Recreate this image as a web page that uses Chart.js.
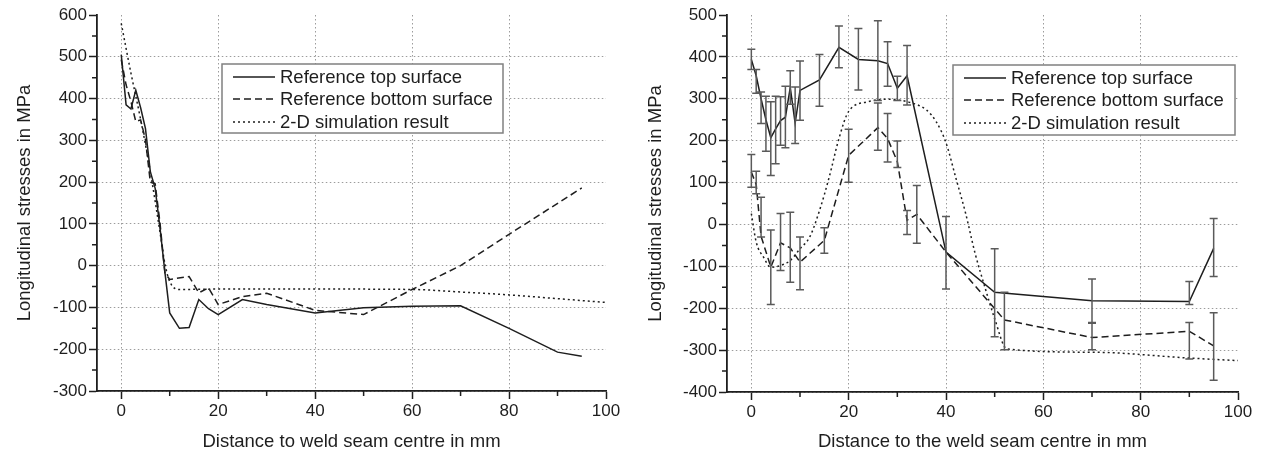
<!DOCTYPE html>
<html>
<head>
<meta charset="utf-8">
<script src="https://cdn.jsdelivr.net/npm/chart.js@4"></script>
<style>
  body { margin: 0; background: #fff; }
  #wrap { position: relative; width: 1262px; height: 451px; }
  .box { position: absolute; top: 0; width: 631px; height: 451px; }
</style>
</head>
<body>
<div id="wrap">
  <div class="box" style="left:0"><canvas id="leftChart" width="631" height="451"></canvas></div>
  <div class="box" style="left:631px"><canvas id="rightChart" width="631" height="451"></canvas></div>
</div>
<script>
// left panel: reference measurement vs 2-D simulation
const leftTopX = [0, 1, 2, 3, 4, 5, 6, 7, 8, 9, 10, 12, 14, 16, 18, 20, 25, 30, 40, 50, 60, 70, 80, 90, 95]
const leftTopY = [505, 385, 375, 420, 378, 328, 225, 185, 90, -15, -113, -150, -148, -81, -103, -117, -81, -93, -113, -101, -97, -96, -150, -207, -217]
const leftBotX = [0, 1, 2, 3, 4, 5, 6, 7, 8, 9, 10, 14, 16, 18, 20, 25, 30, 40, 50, 60, 70, 80, 95]
const leftBotY = [493, 433, 393, 345, 349, 301, 200, 196, 102, -17, -33, -26, -65, -53, -93, -74, -66, -107, -117, -57, 0, 75, 186]
const leftSimX = [0, 2, 4, 6, 8, 9, 10, 12, 20, 40, 60, 70, 80, 90, 100]
const leftSimY = [580, 461, 350, 225, 80, 5, -38, -57, -56, -56, -57, -63, -70, -79, -88]

// right panel: with scatter bands
const rightTopX = [0, 1, 2, 3, 4, 5, 6, 7, 8, 9, 10, 14, 18, 22, 26, 28, 30, 32, 40, 50, 70, 90, 95]
const rightTopY = [394, 355, 300, 250, 207, 228, 248, 256, 327, 242, 320, 345, 423, 394, 391, 384, 325, 355, -66, -162, -182, -184, -57]
const rightTopHigh = [418, 370, 316, 306, 293, 306, 305, 330, 367, 328, 390, 406, 474, 468, 486, 436, 354, 427, 19, -58, -130, -136, 14]
const rightTopLow = [370, 313, 241, 175, 117, 145, 189, 183, 287, 193, 249, 282, 374, 321, 296, 330, 296, 285, -154, -268, -234, -191, -124]
const rightBotX = [0, 1, 2, 4, 6, 8, 10, 15, 20, 26, 28, 30, 32, 34, 40, 52, 70, 90, 95]
const rightBotY = [125, 95, -28, -102, -44, -56, -90, -38, 165, 231, 205, 150, 10, 24, -66, -228, -270, -255, -290]
const rightBotHigh = [167, 127, 65, -13, 26, 29, -30, -8, 227, 290, 265, 199, 33, 93, null, -162, -236, -234, -211]
const rightBotLow = [89, 73, -30, -191, -110, -138, -156, -69, 101, 177, 149, 136, -24, -45, null, -299, -299, -321, -372]
const rightSimX = [0, 1, 2.5, 4, 6, 8, 10, 12, 14, 16, 18, 20, 24, 28, 32, 36, 38, 40, 42, 44, 46, 48, 50, 52.5, 70, 90, 100]
const rightSimY = [26, -42, -78, -102, -98, -86, -58, -30, 33, 113, 205, 270, 293, 299, 293, 273, 245, 195, 112, 28, -70, -150, -225, -297, -305, -319, -325]

const legendLabels = ['Reference top surface', 'Reference bottom surface', '2-D simulation result']

const INK = '#1e1e1e'
const FONT = "'Liberation Sans', Arial, sans-serif"
Chart.defaults.font.family = FONT
Chart.defaults.color = INK

function toPoints(xs, ys) {
    return xs.map((x, i) => ({x: x, y: ys[i]}))
}

function lineStyle(kind) {
    if (kind === 'dash') return [7, 4]
    if (kind === 'dot') return [2, 3]
    return []
}

const extras = {
    id: 'extras',
    afterDatasetsDraw(chart) {
        const {ctx, scales} = chart
        // error bars
        chart.data.datasets.forEach((ds) => {
            if (!ds.errLow) return
            ctx.save()
            ctx.strokeStyle = '#5a5a5a'
            ctx.lineWidth = 1.5
            ctx.beginPath()
            ds.data.forEach((p, i) => {
                if (ds.errLow[i] == null) return
                const px = scales.x.getPixelForValue(p.x)
                const lo = scales.y.getPixelForValue(ds.errLow[i])
                const hi = scales.y.getPixelForValue(ds.errHigh[i])
                ctx.moveTo(px, lo); ctx.lineTo(px, hi)
                ctx.moveTo(px - 4, lo); ctx.lineTo(px + 4, lo)
                ctx.moveTo(px - 4, hi); ctx.lineTo(px + 4, hi)
            })
            ctx.stroke()
            ctx.restore()
        })
    },
    afterDraw(chart, args, opts) {
        const {ctx, chartArea, scales} = chart
        // minor ticks
        ctx.save()
        ctx.strokeStyle = INK
        ctx.lineWidth = 1.5
        ctx.beginPath()
        for (let v = scales.y.min + 50; v < scales.y.max; v += 100) {
            const py = scales.y.getPixelForValue(v)
            ctx.moveTo(chartArea.left - 5, py); ctx.lineTo(chartArea.left, py)
        }
        for (let v = 10; v < 100; v += 20) {
            const px = scales.x.getPixelForValue(v)
            ctx.moveTo(px, chartArea.bottom); ctx.lineTo(px, chartArea.bottom + 5)
        }
        ctx.stroke()
        ctx.restore()

        // boxed legend
        const b = opts.box
        ctx.save()
        ctx.fillStyle = '#fff'
        ctx.fillRect(b.x, b.y, b.w, b.h)
        ctx.strokeStyle = '#808080'
        ctx.lineWidth = 1.5
        ctx.strokeRect(b.x, b.y, b.w, b.h)
        ctx.font = '18.5px ' + FONT
        ctx.textBaseline = 'middle'
        ctx.fillStyle = INK
        chart.data.datasets.forEach((ds, i) => {
            const ry = b.rowY[i]
            ctx.strokeStyle = INK
            ctx.lineWidth = 1.5
            ctx.setLineDash(ds.borderDash || [])
            ctx.beginPath()
            ctx.moveTo(b.x + 11, ry); ctx.lineTo(b.x + 53, ry)
            ctx.stroke()
            ctx.setLineDash([])
            ctx.fillText(ds.label, b.x + 58, ry + 1)
        })
        ctx.restore()
    }
}

function makeChart(id, cfg) {
    const ctx = document.getElementById(id).getContext('2d')
    const datasets = cfg.series.map((s, i) => ({
        label: legendLabels[i],
        data: toPoints(s.x, s.y),
        errLow: s.low || null,
        errHigh: s.high || null,
        borderColor: INK,
        borderWidth: 1.5,
        borderDash: lineStyle(s.kind),
        pointRadius: 0,
        fill: false,
        tension: 0,
        cubicInterpolationMode: s.smooth ? 'monotone' : 'default'
    }))
    const gridColor = (max) => (c) => (c.tick && c.tick.value >= max ? 'rgba(0,0,0,0)' : '#9c9c9c')
    return new Chart(ctx, {
        type: 'line',
        data: {datasets: datasets},
        options: {
            responsive: false,
            animation: false,
            layout: {padding: {left: 0, top: 15, right: cfg.padRight, bottom: 0}},
            plugins: {
                legend: {display: false},
                tooltip: {enabled: false},
                extras: {box: cfg.legendBox}
            },
            scales: {
                x: {
                    type: 'linear',
                    min: -5,
                    max: 100,
                    ticks: {stepSize: 20, includeBounds: false, padding: 2, color: INK, font: {size: 17}},
                    grid: {color: gridColor(100), lineWidth: 1, tickLength: 8, tickColor: INK, tickWidth: 1.5},
                    border: {display: true, color: INK, width: 1.8, dash: [1.5, 2.5]},
                    title: {display: true, text: cfg.xTitle, color: INK, font: {size: 18.5, lineHeight: 1}, padding: 0},
                    afterFit: (s) => { s.height = cfg.xHeight }
                },
                y: {
                    min: cfg.yMin,
                    max: cfg.yMax,
                    ticks: {stepSize: 100, padding: 2, color: INK, font: {size: 17}},
                    grid: {color: gridColor(cfg.yMax), lineWidth: 1, tickLength: 8, tickColor: INK, tickWidth: 1.5},
                    border: {display: true, color: INK, width: 1.8, dash: [1.5, 2.5]},
                    title: {display: true, text: 'Longitudinal stresses in MPa', color: INK, font: {size: 18.5, lineHeight: 1}, padding: {top: 16, bottom: 0}},
                    afterFit: (s) => { s.width = cfg.yWidth }
                }
            }
        },
        plugins: [extras]
    })
}

makeChart('leftChart', {
    series: [
        {x: leftTopX, y: leftTopY, kind: 'solid'},
        {x: leftBotX, y: leftBotY, kind: 'dash'},
        {x: leftSimX, y: leftSimY, kind: 'dot', smooth: true}
    ],
    yMin: -300, yMax: 600,
    xTitle: 'Distance to weld seam centre in mm',
    yWidth: 97, xHeight: 60, padRight: 25,
    legendBox: {x: 222, y: 64, w: 281, h: 69, rowY: [77, 99, 122]}
})

makeChart('rightChart', {
    series: [
        {x: rightTopX, y: rightTopY, low: rightTopLow, high: rightTopHigh, kind: 'solid'},
        {x: rightBotX, y: rightBotY, low: rightBotLow, high: rightBotHigh, kind: 'dash'},
        {x: rightSimX, y: rightSimY, kind: 'dot', smooth: true}
    ],
    yMin: -400, yMax: 500,
    xTitle: 'Distance to the weld seam centre in mm',
    yWidth: 96, xHeight: 59, padRight: 24,
    legendBox: {x: 322, y: 65, w: 282, h: 70, rowY: [78, 100, 123]}
})
</script>
</body>
</html>
